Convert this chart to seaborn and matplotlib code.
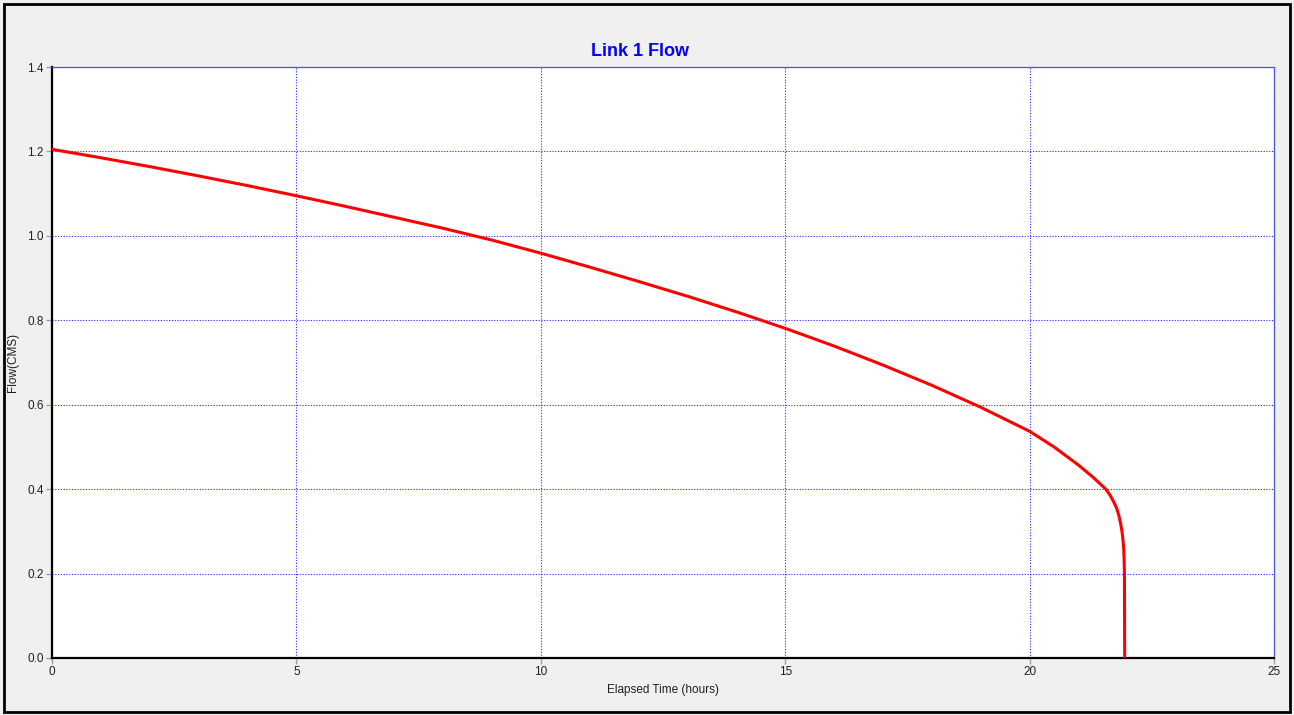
import matplotlib
matplotlib.use("Agg")
import matplotlib.pyplot as plt
import matplotlib.patches as mpatches
import seaborn as sns
import pandas as pd

# Data
elapsed_hours = [0, 1, 2, 3, 4, 5, 6, 7, 8, 9, 10, 11, 12, 13, 14, 15, 16, 17,
                 18, 19, 20, 20.5, 21, 21.3, 21.56, 21.65, 21.72, 21.78, 21.82,
                 21.86, 21.89, 21.91, 21.925, 21.935, 21.94, 21.945]
flow_cms = [1.205, 1.185, 1.164, 1.142, 1.119, 1.095, 1.070, 1.044, 1.018,
            0.990, 0.959, 0.926, 0.892, 0.857, 0.820, 0.781, 0.739, 0.694,
            0.646, 0.594, 0.537, 0.500, 0.457, 0.428, 0.400, 0.385, 0.370,
            0.355, 0.340, 0.320, 0.300, 0.280, 0.260, 0.230, 0.200, 0.0]
x_ticks = [0, 5, 10, 15, 20, 25]
y_ticks = [0.0, 0.2, 0.4, 0.6, 0.8, 1.0, 1.2, 1.4]
title_text = "Link 1 Flow"
x_label = "Elapsed Time (hours)"
y_label = "Flow(CMS)"

df = pd.DataFrame({"t": elapsed_hours, "q": flow_cms})

sns.set_theme(style="white")
plt.rcParams["font.family"] = ["Liberation Sans", "DejaVu Sans"]

W, H = 1294, 715
fig = plt.figure(figsize=(W / 100, H / 100), dpi=100, facecolor="#f0f0f0")
ax = fig.add_axes([52 / W, (H - 658) / H, (1274 - 52) / W, (658 - 67) / H])
ax.set_facecolor("white")

sns.lineplot(data=df, x="t", y="q", ax=ax, color="#ff0000", linewidth=2.2,
             estimator=None, sort=False, zorder=5)

ax.set_xlim(0, 25)
ax.set_ylim(0, 1.4)
ax.set_xticks(x_ticks)
ax.set_xticklabels([str(v) for v in x_ticks])
ax.set_yticks(y_ticks)
ax.set_yticklabels([f"{v:.1f}" for v in y_ticks])

ax.grid(True, color="#0000ff", linestyle=(0, (1, 1.5)), linewidth=0.8, alpha=0.85)
ax.set_axisbelow(True)

for side in ["left", "bottom"]:
    ax.spines[side].set_visible(True)
    ax.spines[side].set_color("black")
    ax.spines[side].set_linewidth(1.6)
for side in ["top", "right"]:
    ax.spines[side].set_visible(True)
    ax.spines[side].set_color("#5050e0")
    ax.spines[side].set_linewidth(0.9)

ax.tick_params(axis="both", which="major", direction="out", length=4, width=1,
               color="#a0a0a0", labelsize=8.5, labelcolor="#202020", pad=2,
               bottom=True, left=True)

ax.set_xlabel(x_label, fontsize=8.5, color="#202020", labelpad=4)
ax.set_ylabel(y_label, fontsize=8.5, color="#202020", labelpad=6)

fig.text(640 / W, (H - 56) / H, title_text, ha="center", va="baseline",
         fontsize=13, fontweight="bold", color="#0000ff")

border = mpatches.Rectangle((4 / W, 3 / H), (1290 - 4) / W, (712 - 4) / H,
                            transform=fig.transFigure, fill=False,
                            edgecolor="black", linewidth=2)
fig.patches.append(border)

fig.savefig("out.png", dpi=100, facecolor=fig.get_facecolor())
